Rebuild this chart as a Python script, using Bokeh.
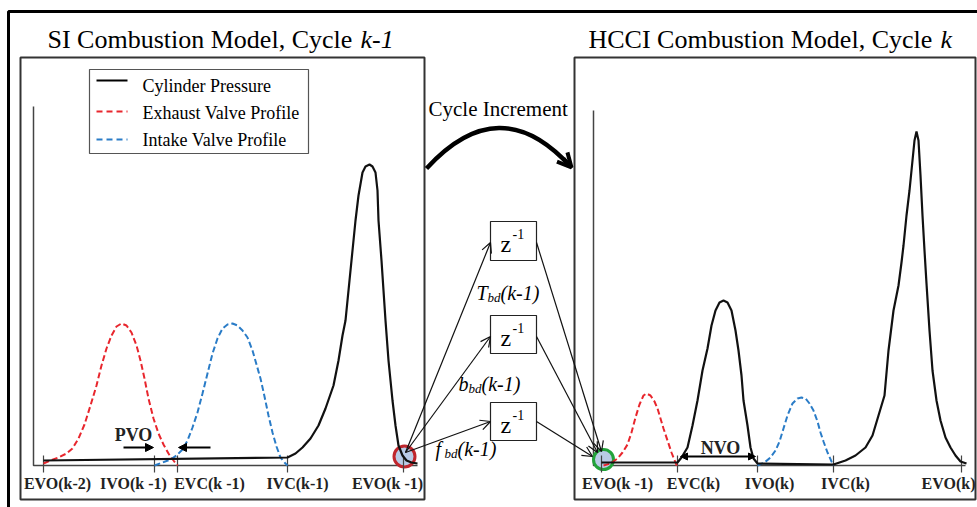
from bokeh.plotting import figure
from bokeh.models import Range1d, Arrow, OpenHead, NormalHead, ColumnDataSource
from bokeh.core.properties import value
from bokeh.embed import file_html
from bokeh.resources import INLINE

SERIF = value("Liberation Serif")
RED = "#e8262d"
BLUE = "#2a7cc7"
GREEN = "#22a33a"
CIRCLE_FILL = "#b9cbe6"

# ---- SI cycle k-1 (left panel) ----
si_tick_x = [43, 154, 177, 287, 403]
si_tick_labels = ["EVO(k-2)", "IVO(k -1)", "EVC(k -1)", "IVC(k-1)", "EVO(k -1)"]
si_label_x = [57, 133, 209, 297, 387]

si_pressure_x = [43, 287, 295, 302, 310, 318, 325, 333, 338, 342, 345, 349, 352, 355, 358,
                 362, 365, 369, 372, 375, 377, 378, 381, 383, 385, 388, 392, 395, 398, 402,
                 406, 411, 417]
si_pressure_y = [460, 457, 453, 447, 438, 425, 408, 385, 360, 335, 320, 280, 250, 220, 195,
                 172, 166, 164, 166, 172, 190, 220, 260, 290, 320, 360, 400, 425, 445, 455,
                 460, 462, 463]

si_exhaust_x = [43, 50, 58, 66, 72, 78, 84, 90, 96, 101, 106, 111, 116, 121, 126, 131, 136,
                140, 144, 148, 153, 158, 163, 168, 173, 177]
si_exhaust_y = [463, 460, 457, 453, 448, 438, 424, 405, 385, 365, 348, 335, 326, 323, 325,
                332, 345, 360, 378, 398, 418, 433, 444, 453, 460, 465]

si_intake_x = [154, 162, 170, 176, 182, 187, 192, 197, 202, 207, 212, 217, 222, 227, 232,
               237, 242, 247, 252, 256, 260, 264, 268, 272, 276, 280, 284, 287]
si_intake_y = [465, 462, 459, 455, 449, 440, 427, 412, 393, 373, 353, 338, 328, 324, 323,
               325, 330, 337, 350, 364, 378, 396, 415, 432, 446, 457, 462, 465]

# ---- HCCI cycle k (right panel) ----
hcci_tick_x = [601, 677, 757, 833, 961]
hcci_tick_labels = ["EVO(k -1)", "EVC(k)", "IVO(k)", "IVC(k)", "EVO(k)"]
hcci_label_x = [617, 693, 769, 845, 948]

hcci_pressure_x = [601, 677, 681, 687, 692, 697, 702, 707, 711, 715, 719, 723, 727, 731, 735,
                   738, 741, 743, 747, 750, 753, 757, 833, 845, 855, 865, 872, 878, 884, 888,
                   893, 898, 901, 903, 906, 909, 912, 914, 916, 918, 920, 922, 924, 926, 929,
                   932, 936, 940, 945, 950, 955, 960, 966]
hcci_pressure_y = [462, 462, 457, 447, 425, 400, 370, 348, 325, 310, 302, 300, 302, 310, 330,
                   350, 375, 400, 425, 447, 458, 463, 464, 460, 455, 447, 435, 415, 395, 350,
                   310, 285, 262, 245, 215, 190, 160, 140, 131, 140, 175, 215, 250, 283, 330,
                   370, 400, 420, 437, 447, 455, 461, 463]

hcci_exhaust_x = [603, 610, 617, 622, 627, 631, 635, 639, 643, 646, 650, 654, 657, 660, 663,
                  667, 671, 675, 677]
hcci_exhaust_y = [465, 463, 458, 452, 444, 432, 417, 404, 395, 393, 395, 401, 408, 418, 428,
                  440, 452, 462, 467]

hcci_intake_x = [757, 764, 770, 775, 779, 783, 787, 792, 797, 801, 805, 809, 813, 817, 820,
                 823, 827, 831, 833]
hcci_intake_y = [465, 462, 457, 450, 441, 428, 415, 403, 398, 397, 398, 403, 410, 421, 432,
                 441, 452, 461, 465]

# ---- unit-delay blocks carrying the burned-gas states ----
delay_left = [490, 490, 490]
delay_right = [536, 536, 536]
delay_top = [221, 315, 402]
delay_bottom = [260, 353, 440]
state_names = ["T", "b", "f"]

p = figure(width=977, height=507, output_backend="svg", toolbar_location=None,
           x_range=Range1d(0, 977), y_range=Range1d(507, 0),
           x_axis_type=None, y_axis_type=None, min_border=0)
p.outline_line_color = None
p.background_fill_color = "white"
p.border_fill_color = "white"
p.grid.visible = False


def label(x, y, s, size, style="normal", align="left", color="black"):
    p.text(x=[x], y=[y], text=[s], text_font=SERIF, text_font_style=style,
           text_font_size=size, text_align=align, text_baseline="middle",
           text_color=color)


# outer frame
p.line([8, 8, 977], [507, 11, 11], line_color="black", line_width=3)

# panel frames
p.quad(left=[20, 574], right=[424, 975], top=[57, 57], bottom=[499, 499],
       fill_color=None, line_color="#333333", line_width=2)

# titles
label(47, 39, "SI Combustion Model, Cycle ", "26px")
label(360, 39, "k-1", "26px", style="italic")
label(588, 39, "HCCI Combustion Model, Cycle ", "26px")
label(940, 39, "k", "26px", style="italic")

# legend
p.quad(left=[89], right=[308], top=[69], bottom=[153], fill_color="white",
       line_color="#555555", line_width=1.2)
p.line([96, 127], [80, 80], line_color="black", line_width=2)
p.line([96, 127], [111, 111], line_color=RED, line_width=2, line_dash="6 4")
p.line([96, 127], [139, 139], line_color=BLUE, line_width=2, line_dash="6 4")
for ty, s in zip([85, 112, 139],
                 ["Cylinder Pressure", "Exhaust Valve Profile", "Intake Valve Profile"]):
    label(142, ty, s, "18px")

# axes of the two panels
p.line([33, 33, 417], [106, 465, 465], line_color="#444444", line_width=1.5)
p.line([593, 593, 965], [110, 465, 465], line_color="#444444", line_width=1.5)

# marker circles at EVO(k-1)
p.scatter(x=[404], y=[456], size=21, marker="circle", fill_color=CIRCLE_FILL,
          line_color="#c0262d", line_width=3)
p.scatter(x=[603], y=[459], size=20, marker="circle", fill_color=CIRCLE_FILL,
          line_color=GREEN, line_width=3)

# tick marks
for tx in si_tick_x + hcci_tick_x:
    p.line([tx, tx], [455, 472], line_color="#444444", line_width=1.2)

# valve profiles and cylinder pressure
p.line(si_exhaust_x, si_exhaust_y, line_color=RED, line_width=2, line_dash="6 3")
p.line(si_intake_x, si_intake_y, line_color=BLUE, line_width=2, line_dash="6 3")
p.line(si_pressure_x, si_pressure_y, line_color="#111111", line_width=2.2)
p.line(hcci_exhaust_x, hcci_exhaust_y, line_color=RED, line_width=2, line_dash="6 3")
p.line(hcci_intake_x, hcci_intake_y, line_color=BLUE, line_width=2, line_dash="6 3")
p.line(hcci_pressure_x, hcci_pressure_y, line_color="#111111", line_width=2.2)

# tick labels
p.text(x=si_label_x + hcci_label_x, y=[483] * 10, text=si_tick_labels + hcci_tick_labels,
       text_font=SERIF, text_font_style="bold", text_font_size="16px",
       text_align="center", text_baseline="middle", text_color="#222222")

# PVO / NVO
label(133, 434, "PVO", "18px", style="bold", align="center", color="#222222")
p.add_layout(Arrow(x_start=123, y_start=447, x_end=153, y_end=447, line_width=2,
                   end=NormalHead(size=8, fill_color="black", line_color="black")))
p.add_layout(Arrow(x_start=210, y_start=447, x_end=178, y_end=447, line_width=2,
                   end=NormalHead(size=8, fill_color="black", line_color="black")))
label(720, 447, "NVO", "18px", style="bold", align="center", color="#222222")
p.add_layout(Arrow(x_start=680, y_start=456, x_end=755, y_end=456, line_width=2,
                   start=NormalHead(size=7, fill_color="black", line_color="black"),
                   end=NormalHead(size=7, fill_color="black", line_color="black")))

# cycle increment arc
label(428, 108, "Cycle Increment", "21px")
p.quadratic(x0=[426], y0=[168], x1=[570], y1=[166], cx=[499], cy=[88],
            line_color="black", line_width=4.5)
p.add_layout(Arrow(x_start=563, y_start=158, x_end=571, y_end=167, line_width=4,
                   line_color="black",
                   end=OpenHead(size=14, line_width=4, line_color="black")))

# delay blocks
p.quad(left=delay_left, right=delay_right, top=delay_top, bottom=delay_bottom,
       fill_color="white", line_color="#222222", line_width=1.2)
for t in delay_top:
    label(500, t + 22, "z", "24px")
    label(512, t + 12, "-1", "14px")

# state labels  X_bd(k-1)
label_pos = [(476, 292), (458, 383), (435, 448)]
name_w = {"T": 11, "b": 10, "f": 9}
for name, (lx, ly) in zip(state_names, label_pos):
    w = name_w[name]
    label(lx, ly, name, "20px", style="italic")
    label(lx + w, ly + 5, "bd", "13px", style="italic")
    label(lx + w + 13, ly, "(k-1)", "20px", style="italic")

# signal arrows: SI end state -> delays -> HCCI initial state
arrows_in = ColumnDataSource(dict(x0=[405, 405, 405], y0=[452, 452, 452],
                                  x1=[490, 490, 490], y1=[242, 336, 421]))
p.add_layout(Arrow(source=arrows_in, x_start="x0", y_start="y0", x_end="x1", y_end="y1",
                   line_width=1.2, line_color="#111111",
                   end=OpenHead(size=10, line_width=1.2, line_color="#111111")))
arrows_out = ColumnDataSource(dict(x0=[536, 536, 536], y0=[242, 336, 421],
                                   x1=[601, 597, 592], y1=[451, 452, 456]))
p.add_layout(Arrow(source=arrows_out, x_start="x0", y_start="y0", x_end="x1", y_end="y1",
                   line_width=1.2, line_color="#111111",
                   end=OpenHead(size=10, line_width=1.2, line_color="#111111")))

open("out.html", "w").write(file_html(p, INLINE))
